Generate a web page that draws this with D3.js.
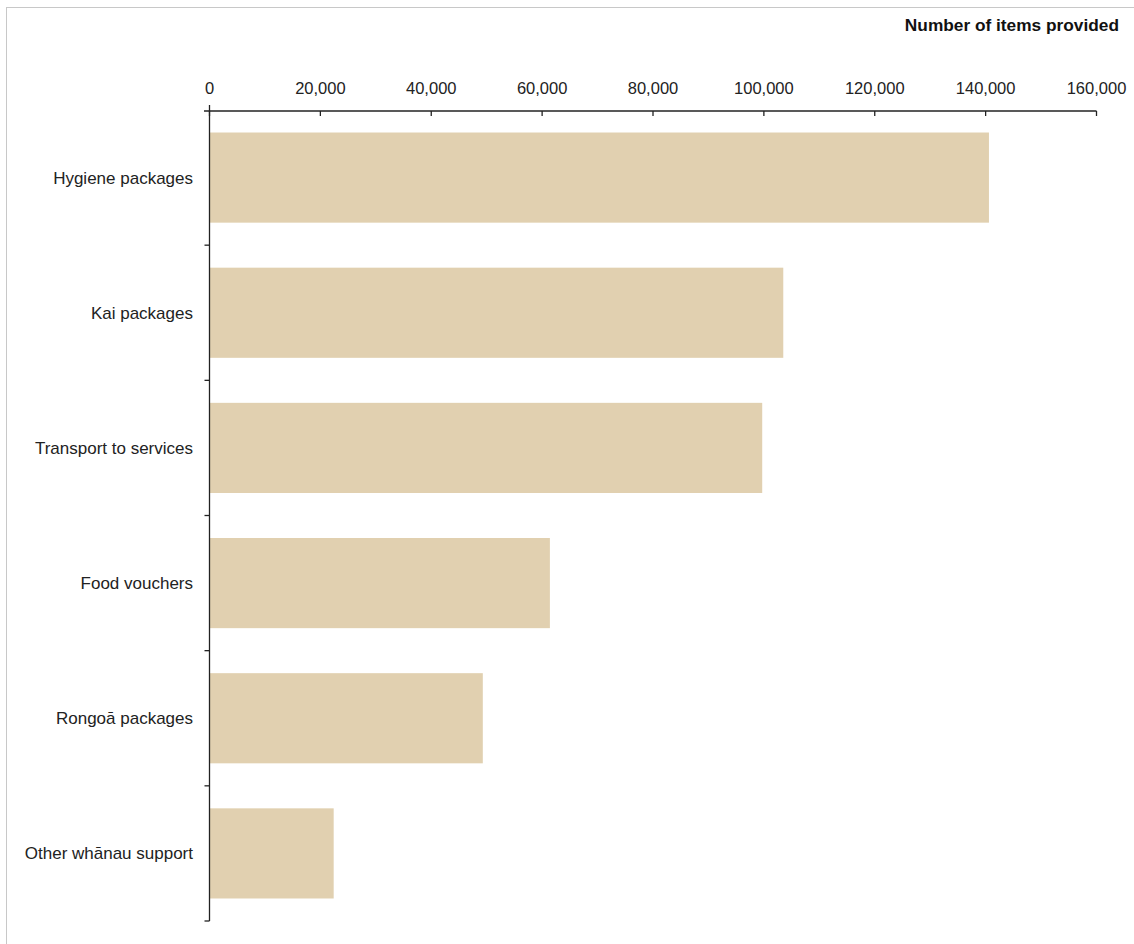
<!DOCTYPE html>
<html><head><meta charset="utf-8">
<script src="https://cdn.jsdelivr.net/npm/d3@7"></script>
<style>body{margin:0;background:#fff}svg{display:block;font-family:"Liberation Sans",Arial,Helvetica,sans-serif}</style>
</head><body><svg id="c" width="1134" height="944"></svg>
<script>
const categories = ["Hygiene packages","Kai packages","Transport to services","Food vouchers","Rongoā packages","Other whānau support"];
const values = [140600, 103500, 99700, 61400, 49300, 22400];
const tickValues = [0,20000,40000,60000,80000,100000,120000,140000,160000];
const title = "Number of items provided";

const svg = d3.select("#c");
svg.append("rect").attr("x",6.5).attr("y",7.5).attr("width",1140).attr("height",950)
  .attr("fill","none").attr("stroke","#c8c8c8").attr("stroke-width",1);

const x = d3.scaleLinear().domain([0,160000]).range([209.5,1096.5]);
const y = d3.scaleBand().domain(categories).range([110,921]).paddingInner(0.333).paddingOuter(0.1665);

svg.selectAll("rect.bar").data(values).join("rect").attr("class","bar")
  .attr("x",x(0)).attr("y",(d,i)=>y(categories[i]))
  .attr("width",d=>x(d)-x(0)).attr("height",y.bandwidth())
  .attr("fill","#e1d0b0");

// top axis
const gx = svg.append("g").attr("transform","translate(0,111)");
gx.append("line").attr("x1",204).attr("x2",x(160000)).attr("y1",0).attr("y2",0).attr("stroke","#222").attr("stroke-width",1.3);
gx.selectAll("line.t").data(tickValues).join("line").attr("class","t")
  .attr("x1",d=>x(d)).attr("x2",d=>x(d)).attr("y1",0).attr("y2",5).attr("stroke","#222").attr("stroke-width",1.3);
gx.selectAll("text").data(tickValues).join("text")
  .attr("x",d=>x(d)).attr("y",-17).attr("text-anchor","middle")
  .attr("font-size",16.5).attr("fill","#222").text(d3.format(","));

// left axis
const gy = svg.append("g");
gy.append("line").attr("x1",x(0)).attr("x2",x(0)).attr("y1",105).attr("y2",921).attr("stroke","#222").attr("stroke-width",1.3);
const bandStep = y.step();
const boundaries = categories.map((c,i)=>y(c)-y.paddingInner()*bandStep/2+bandStep);
gy.selectAll("line.t").data(boundaries).join("line").attr("class","t")
  .attr("x1",x(0)-5).attr("x2",x(0)).attr("y1",d=>d).attr("y2",d=>d).attr("stroke","#222").attr("stroke-width",1.3);
gy.selectAll("text").data(categories).join("text")
  .attr("x",193).attr("y",d=>y(d)+y.bandwidth()/2).attr("dy","0.35em")
  .attr("text-anchor","end").attr("font-size",17).attr("fill","#222").text(d=>d);

svg.append("text").attr("x",1119).attr("y",31).attr("text-anchor","end")
  .attr("font-size",17.3).attr("font-weight","bold").attr("fill","#111").text(title);
</script></body></html>
